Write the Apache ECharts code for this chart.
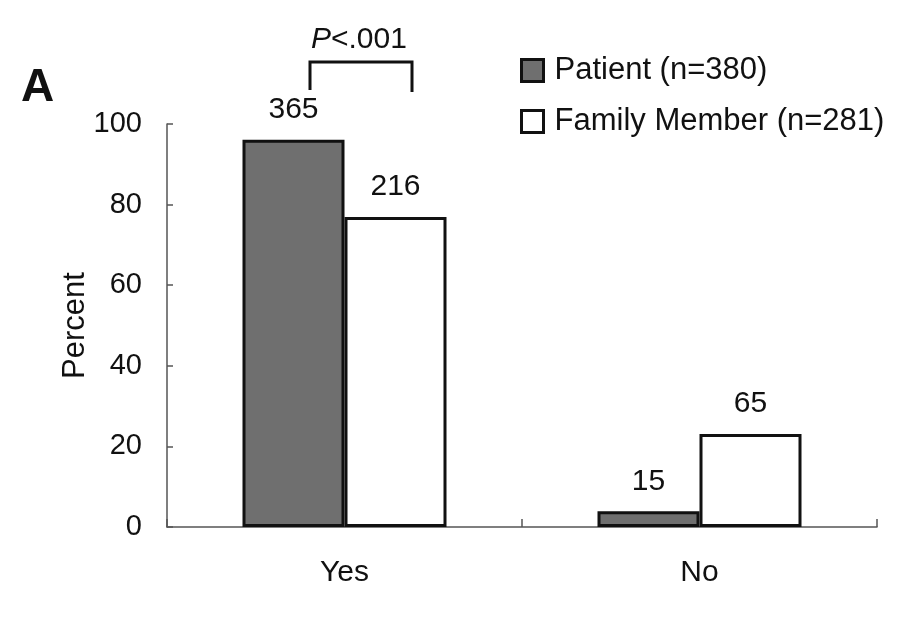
<!DOCTYPE html>
<html>
<head>
<meta charset="utf-8">
<script src="https://cdn.jsdelivr.net/npm/echarts@6/dist/echarts.min.js"></script>
<style>
  html, body { margin: 0; padding: 0; background: #fff; }
  #chart { width: 916px; height: 621px; }
</style>
</head>
<body>
<div id="chart"></div>
<script>
// Response categories
const categories = ['Yes', 'No'];
// Percent of each group giving the response
const patientPercent = [96.1, 3.9];
const familyPercent = [76.9, 23.1];
// Respondent counts printed above the bars
const patientCounts = [365, 15];
const familyCounts = [216, 65];
// Series names (legend)
const seriesNames = ['Patient (n=380)', 'Family Member (n=281)'];
// Y axis range
const yMin = 0, yMax = 100, yStep = 20;

const FONT = '"Liberation Sans", Arial, Helvetica, sans-serif';
const INK = '#111';
const GREY = '#6f6f6f';

const chart = echarts.init(document.getElementById('chart'), null, { renderer: 'canvas' });

const labelStyle = (counts) => ({
  show: true,
  position: 'top',
  distance: 15,
  fontFamily: FONT,
  fontSize: 30,
  color: INK,
  formatter: (p) => String(counts[p.dataIndex])
});

chart.setOption({
  animation: false,
  backgroundColor: '#fff',
  grid: { left: 167, right: 39, top: 124, bottom: 94 },
  legend: {
    orient: 'vertical',
    left: 515,
    top: 50,
    itemWidth: 22,
    itemHeight: 22,
    itemGap: 20,
    icon: 'rect',
    textStyle: { fontFamily: FONT, fontSize: 31, color: INK, padding: [0, 0, 0, 6] },
    data: [
      { name: seriesNames[0], itemStyle: { color: GREY, borderColor: INK, borderWidth: 3 } },
      { name: seriesNames[1], itemStyle: { color: '#fff', borderColor: INK, borderWidth: 3 } }
    ]
  },
  xAxis: {
    type: 'category',
    data: categories,
    boundaryGap: true,
    axisLine: { show: true, lineStyle: { color: '#555', width: 1.5 } },
    axisTick: { show: true, inside: true, length: 8, lineStyle: { color: '#555', width: 1.5 } },
    axisLabel: { fontFamily: FONT, fontSize: 30, color: INK, margin: 31 },
    splitLine: { show: false }
  },
  yAxis: {
    type: 'value',
    min: yMin,
    max: yMax,
    interval: yStep,
    name: 'Percent',
    nameLocation: 'middle',
    nameGap: 76,
    nameMoveOverlap: false,
    nameTextStyle: { fontFamily: FONT, fontSize: 31, color: INK },
    axisLine: { show: true, lineStyle: { color: '#555', width: 1.5 } },
    axisTick: { show: true, inside: true, length: 6, lineStyle: { color: '#555', width: 1.5 } },
    axisLabel: { fontFamily: FONT, fontSize: 29, color: INK, margin: 25 },
    splitLine: { show: false }
  },
  series: [
    {
      name: seriesNames[0],
      type: 'bar',
      data: patientPercent,
      barWidth: 102,
      barGap: '0%',
      itemStyle: { color: GREY, borderColor: INK, borderWidth: 3 },
      label: labelStyle(patientCounts)
    },
    {
      name: seriesNames[1],
      type: 'bar',
      data: familyPercent,
      barWidth: 102,
      barGap: '0%',
      itemStyle: { color: '#fff', borderColor: INK, borderWidth: 3 },
      label: labelStyle(familyCounts)
    }
  ],
  graphic: [
    {
      type: 'text',
      left: 21,
      top: 65,
      style: { text: 'A', font: 'bold 46px ' + FONT, fill: INK }
    },
    {
      // significance bracket spanning the "Yes" pair
      type: 'polyline',
      shape: { points: [[310, 90], [310, 62], [412, 62], [412, 92]] },
      style: { stroke: INK, lineWidth: 3, fill: null }
    },
    {
      type: 'text',
      left: 311,
      top: 25,
      style: {
        rich: {
          i: { font: 'italic 30px ' + FONT, fill: INK },
          n: { font: '30px ' + FONT, fill: INK }
        },
        text: '{i|P}{n|<.001}'
      }
    }
  ]
});
</script>
</body>
</html>
